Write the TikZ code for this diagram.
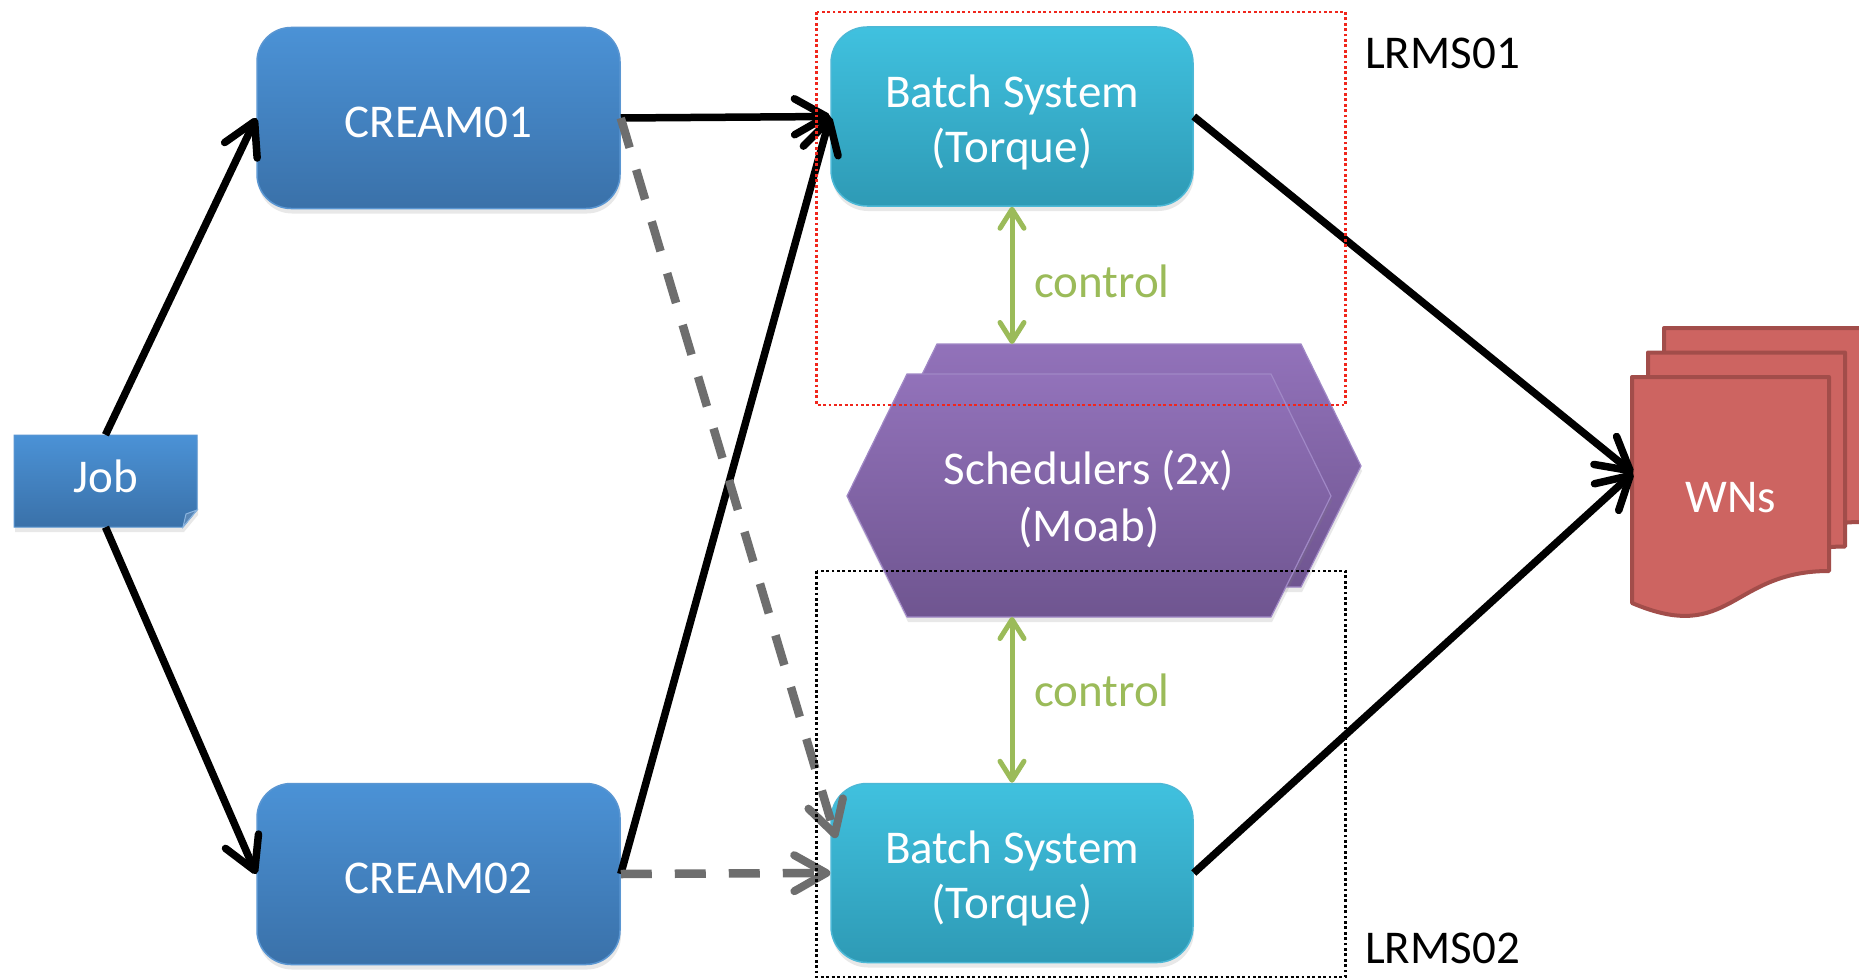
\documentclass[tikz,border=0pt]{standalone}
\usepackage{fontspec}
\setmainfont{Carlito}
\usetikzlibrary{arrows.meta,shadows}
\definecolor{creamtop}{HTML}{4B92D6}
\definecolor{creambot}{HTML}{3A71A9}
\definecolor{creamedge}{HTML}{5A96D2}
\definecolor{batchtop}{HTML}{40C1DF}
\definecolor{batchbot}{HTML}{2E9AB5}
\definecolor{batchedge}{HTML}{4CB8D6}
\definecolor{hextop}{HTML}{9272BA}
\definecolor{hexbot}{HTML}{6F5590}
\definecolor{hexedge}{HTML}{A088C6}
\definecolor{wnfill}{HTML}{CD6461}
\definecolor{wnedge}{HTML}{A24D4A}
\definecolor{ctrlgreen}{HTML}{9BBB59}
\definecolor{dashgray}{HTML}{6E6E6E}
\definecolor{dotred}{HTML}{F0261C}
\begin{document}
\begin{tikzpicture}[x=1pt,y=-1pt,
  softshadow/.style={drop shadow={opacity=0.18,shadow xshift=1pt,shadow yshift=-5pt}},
  creambox/.style={rectangle,rounded corners=34pt,minimum width=363pt,minimum height=181pt,inner sep=0pt,
    top color=creamtop,bottom color=creambot,draw=creamedge,line width=1.5pt,softshadow},
  batchbox/.style={rectangle,rounded corners=36pt,minimum width=362pt,minimum height=179pt,inner sep=0pt,
    top color=batchtop,bottom color=batchbot,draw=batchedge,line width=1.5pt,softshadow},
  wtxt/.style={anchor=base,text=white,inner sep=0pt,font=\fontsize{47pt}{56pt}\selectfont},
  ktxt/.style={anchor=base west,text=black,inner sep=0pt,font=\fontsize{47pt}{56pt}\selectfont},
  gtxt/.style={anchor=base west,text=ctrlgreen,inner sep=0pt,font=\fontsize{47pt}{56pt}\selectfont},
  solidarrow/.style={draw=black,line width=7.5pt,-{Straight Barb[length=32pt,width=36pt,line width=7.5pt,round]}},
  dasharrow/.style={draw=dashgray,line width=8.5pt,dash pattern=on 31pt off 23pt,-{Straight Barb[length=32pt,width=36pt,line width=8pt,round]}},
  ctrlarrow/.style={draw=ctrlgreen,line width=5pt,{Straight Barb[length=19pt,width=24pt,line width=5pt,round]}-{Straight Barb[length=19pt,width=24pt,line width=5pt,round]}},
  hexshape/.style={top color=hextop,bottom color=hexbot,draw=hexedge,line width=1.2pt,softshadow},
  docshape/.style={fill=wnfill,draw=wnedge,line width=4pt,line join=round},
  dotbox/.style={line width=2.8pt,dash pattern=on 2.8pt off 2.6pt}
]
\fill[white] (0,0) rectangle (1859,979);
\useasboundingbox (0,0) rectangle (1859,979);

% Job (folded corner)
\path[top color=creamtop,bottom color=creambot,draw=creamedge,line width=1pt,softshadow]
  (14,435) -- (197,435) -- (197,510) -- (183,527) -- (14,527) -- cycle;
\path[fill=creambot!85!white,draw=creamedge!70!white,line width=1pt] (183,527) -- (197,510) -- (186,514) -- cycle;
\node[minimum width=183pt,minimum height=92pt,inner sep=0pt] (job) at (105.5,481) {};
\node[wtxt] (jobt) at (105.5,492) {Job};

% CREAM boxes
\node[creambox] (c1) at (438.5,118) {};
\node[creambox] (c2) at (438.5,874) {};
\node[wtxt] (c1t) at (438.5,137) {CREAM01};
\node[wtxt] (c2t) at (438.5,893) {CREAM02};

% Batch systems
\node[batchbox] (b1) at (1012,116.5) {};
\node[batchbox] (b2) at (1012,873) {};
\node[wtxt] (b1ta) at (1012,107) {Batch System};
\node[wtxt] (b1tb) at (1012,162) {(Torque)};
\node[wtxt] (b2ta) at (1012,863.5) {Batch System};
\node[wtxt] (b2tb) at (1012,918) {(Torque)};

% Schedulers (two hexagons)
\path[hexshape] (877,466) -- (937,344) -- (1301,344) -- (1361,466) -- (1301,587) -- (937,587) -- cycle;
\path[hexshape] (847,496) -- (907,374) -- (1271,374) -- (1331,496) -- (1271,617) -- (907,617) -- cycle;
\node[wtxt] (st1) at (1089,484) {Schedulers (2x)};
\node[wtxt] (st2) at (1089,541) {(Moab)};
\coordinate (hbtop) at (1012,344);
\coordinate (hfbot) at (1012,617);

% WNs (stacked documents)
\foreach \dx/\dy in {32/-49, 16/-24.5, 0/0} {
  \path[docshape] (1632+\dx,377+\dy) -- (1829+\dx,377+\dy) -- (1829+\dx,571+\dy)
    .. controls (1730.5+\dx,571+\dy) and (1730.5+\dx,645+\dy) .. (1632+\dx,603+\dy) -- cycle;
}
\node[wtxt] (wnt) at (1731,512) {WNs};
\coordinate (wnin) at (1633,473);
\coordinate (b2in) at (836,838);

% connectors
\draw[solidarrow] (job.north) -- (c1.west);
\draw[solidarrow] (job.south) -- (c2.west);
\draw[solidarrow] (c1.east) -- (b1.west);
\draw[solidarrow] (c2.east) -- (b1.west);
\draw[dasharrow] (c1.east) -- (b2in);
\draw[dasharrow] (c2.east) -- (b2.west);
\draw[solidarrow] (b1.east) -- (wnin);
\draw[solidarrow] (b2.east) -- (wnin);
\draw[ctrlarrow] (b1.south) -- (hbtop);
\draw[ctrlarrow] (hfbot) -- (b2.north);
\node[gtxt] (ctl1) at (1034,297) {control};
\node[gtxt] (ctl2) at (1034,706.5) {control};

% LRMS boxes
\draw[dotbox,draw=dotred] (816.5,12) rectangle (1345.5,405);
\draw[dotbox,draw=black] (816.5,571) rectangle (1345.5,977);
\node[ktxt] (l1) at (1365,69) {LRMS01};
\node[ktxt] (l2) at (1365,963) {LRMS02};
\end{tikzpicture}
\end{document}
